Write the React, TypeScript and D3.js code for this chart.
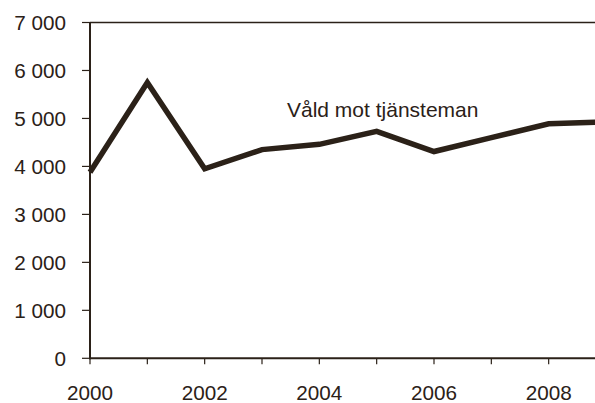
import React from "react";
import * as d3 from "d3";

const years = [2000, 2001, 2002, 2003, 2004, 2005, 2006, 2007, 2008, 2009];
const values = [3880, 5750, 3950, 4350, 4460, 4730, 4310, 4600, 4890, 4925];
const yTicks = [0, 1000, 2000, 3000, 4000, 5000, 6000, 7000];
const xTickYears = [2000, 2001, 2002, 2003, 2004, 2005, 2006, 2007, 2008];
const xLabelYears = [2000, 2002, 2004, 2006, 2008];
const seriesLabel = "Våld mot tjänsteman";

const W = 595;
const H = 403;
const col = "#2b2118";
const font = "Arial, 'Liberation Sans', Helvetica, sans-serif";

const fmt = (v: number) => (v >= 1000 ? `${Math.floor(v / 1000)} ${String(v % 1000).padStart(3, "0")}` : String(v));

export default function App() {
  const x = d3.scaleLinear().domain([2000, 2009]).range([90, 606]);
  const y = d3.scaleLinear().domain([0, 7000]).range([358.3, 22.5]);
  const line = d3
    .line<number>()
    .x((_, i) => x(years[i]))
    .y((d) => y(d));
  const path = line(values) || "";
  return (
    <svg
      width={W}
      height={H}
      style={{ position: "absolute", left: 0, top: 0, display: "block", background: "#fff" }}
    >
      {/* top border */}
      <line x1={x(2000)} x2={W + 20} y1={y(7000)} y2={y(7000)} stroke={col} strokeWidth={1.5} />
      {/* y ticks & labels */}
      {yTicks.map((t) => (
        <g key={t}>
          <line x1={82} x2={x(2000)} y1={y(t)} y2={y(t)} stroke={col} strokeWidth={1.2} />
          <text
            x={66}
            y={y(t) + 7.5}
            textAnchor="end"
            fontFamily={font}
            fontSize={20.7}
            fill={col}
          >
            {fmt(t)}
          </text>
        </g>
      ))}
      {/* x ticks */}
      {xTickYears.map((yr) => (
        <line key={yr} x1={x(yr)} x2={x(yr)} y1={y(0)} y2={y(0) + 6} stroke={col} strokeWidth={1.2} />
      ))}
      {xLabelYears.map((yr) => (
        <text
          key={yr}
          x={x(yr)}
          y={399.5}
          textAnchor="middle"
          fontFamily={font}
          fontSize={20.7}
          fill={col}
        >
          {yr}
        </text>
      ))}
      {/* axes */}
      <line x1={x(2000)} x2={x(2000)} y1={y(7000)} y2={y(0) + 1} stroke={col} strokeWidth={2} />
      <line x1={x(2000) - 1} x2={W + 20} y1={y(0)} y2={y(0)} stroke={col} strokeWidth={2} />
      {/* series */}
      <path d={path} fill="none" stroke={col} strokeWidth={5.5} strokeLinejoin="miter" />
      <text x={287} y={117.3} fontFamily={font} fontSize={21} fill={col}>
        {seriesLabel}
      </text>
    </svg>
  );
}
